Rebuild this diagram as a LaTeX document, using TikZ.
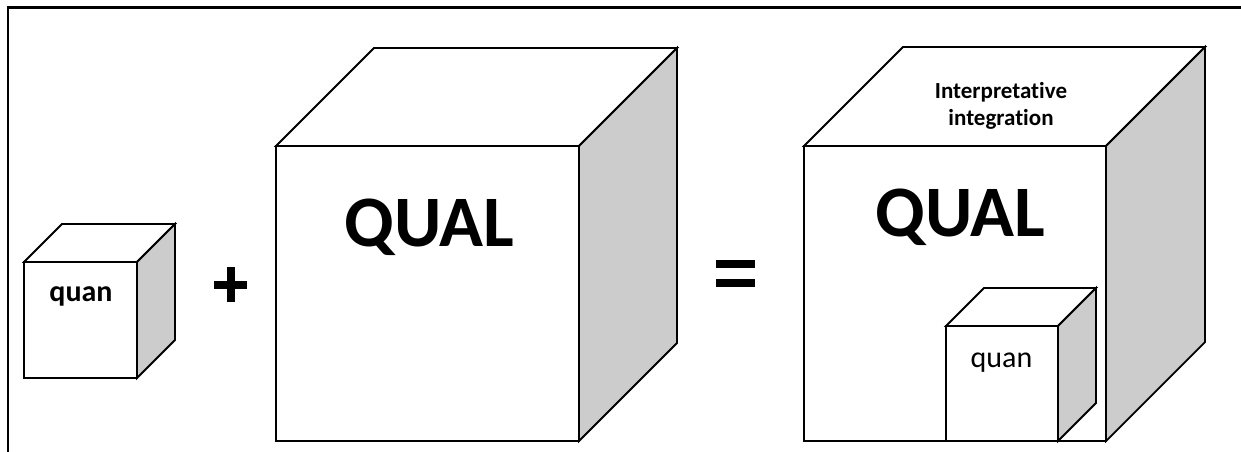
\documentclass[tikz,border=0pt]{standalone}
\usepackage{fontspec}
\setmainfont[Ligatures=NoCommon]{Carlito}
\newcommand\drawcube[5]{%
  \filldraw[cubeline,fill=white] (#1,#2) -- (#1+#5,#2-#5) -- (#1+#3+#5,#2-#5) -- (#1+#3,#2) -- cycle;
  \filldraw[cubeline,fill=sidegray] (#1+#3,#2) -- (#1+#3+#5,#2-#5) -- (#1+#3+#5,#2+#4-#5) -- (#1+#3,#2+#4) -- cycle;
  \filldraw[cubeline,fill=white] (#1,#2) rectangle (#1+#3,#2+#4);
}
\definecolor{sidegray}{RGB}{204,204,204}
\begin{document}
\begin{tikzpicture}[x=1pt,y=-1pt,
  cubeline/.style={draw=black,line width=1.8pt,line join=miter},
  frameline/.style={draw=black,line width=2.6pt},
  symbolbar/.style={line width=8pt,line cap=butt,rounded corners=1pt},
  bigtext/.style={anchor=base,inner sep=0pt,font=\fontsize{72.5}{85}\selectfont\bfseries},
  smalltext/.style={anchor=base,inner sep=0pt,font=\fontsize{30}{36}\selectfont},
  toptext/.style={anchor=base,inner sep=0pt,font=\fontsize{23}{27}\selectfont\bfseries}]
\useasboundingbox (0,0) rectangle (1241,452);
% frame (open at the bottom and right)
\draw[frameline] (8,452) -- (8,7.3) -- (1241,7.3);
% cubes
\drawcube{24}{262}{113}{116}{38}
\drawcube{276}{146}{303}{295}{98}
\drawcube{804}{146}{302}{295}{99}
\drawcube{946}{326}{112}{115}{38}
% texts
\node[smalltext,font=\fontsize{30}{36}\selectfont\bfseries] (quanA) at (81,301) {quan};
\node[bigtext] (qualB) at (429.5,246) {QUAL};
\node[bigtext] (qualC) at (960.5,236) {QUAL};
\node[smalltext] (quanD) at (1001.5,367) {quan};
\node[toptext] (interp1) at (1001,98) {Interpretative};
\node[toptext] (interp2) at (1001,125) {integration};
% plus and equals
\coordinate (plus) at (230.5,284.5);
\draw[symbolbar] ([xshift=-16.5pt]plus) -- ([xshift=16.5pt]plus);
\draw[symbolbar] ([yshift=-17.5pt]plus) -- ([yshift=17.5pt]plus);
\coordinate (eqA) at (735.5,264);
\coordinate (eqB) at (735.5,283);
\draw[symbolbar] ([xshift=-19.5pt]eqA) -- ([xshift=19.5pt]eqA);
\draw[symbolbar] ([xshift=-19.5pt]eqB) -- ([xshift=19.5pt]eqB);
\end{tikzpicture}
\end{document}
